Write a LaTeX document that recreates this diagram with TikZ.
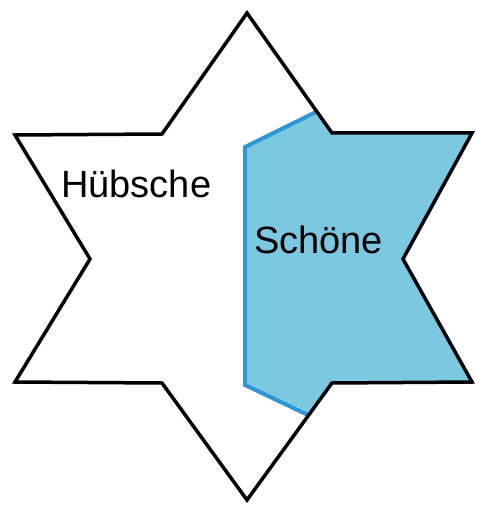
\documentclass[tikz,border=0pt]{standalone}
\usepackage{fontspec}
\setmainfont{Liberation Sans}
\usepackage{xcolor}
\usepackage{tikz}
\usetikzlibrary{calc}
\definecolor{hellblau}{RGB}{124,200,224}
\definecolor{randblau}{RGB}{46,150,212}

\begin{document}
\begin{tikzpicture}[x=1pt, y=-1pt,
      stern/.style={draw=black, line width=3.5pt, line join=miter},
      flaeche/.style={fill=hellblau, draw=none},
      rand/.style={draw=randblau, line width=4pt, line join=miter},
      wort/.style={anchor=base west, inner sep=0pt,
                   font=\fontsize{38}{42}\selectfont}]
    \useasboundingbox (0,0) rectangle (476,505);
    % Ecken des Sterns
    \coordinate (O)  at (247,13);
    \coordinate (OR) at (332,133);
    \coordinate (R1) at (472,133);
    \coordinate (RI) at (403,259);
    \coordinate (R2) at (472,382);
    \coordinate (UR) at (332,383);
    \coordinate (U)  at (247,500);
    \coordinate (UL) at (162,383);
    \coordinate (L2) at (15,382);
    \coordinate (LI) at (90,259);
    \coordinate (L1) at (15,135);
    \coordinate (OL) at (162,134);
    % Grenze der blauen Flaeche
    \coordinate (B1) at (316,112);
    \coordinate (B2) at (245,147);
    \coordinate (B3) at (245,385);
    \coordinate (B4) at (308,415);
    \path[flaeche] (B1) -- (OR) -- (R1) -- (RI) -- (R2) -- (UR) -- (B4)
      -- (B3) -- (B2) -- cycle;
    \draw[rand] (B1) -- (B2) -- (B3) -- (B4);
    \draw[stern] (O) -- (OR) -- (R1) -- (RI) -- (R2) -- (UR) -- (U)
      -- (UL) -- (L2) -- (LI) -- (L1) -- (OL) -- cycle;
    \node[wort] (huebsche) at (61,197) {Hübsche};
    \node[wort] (schoene) at (254,253) {Schöne};
  \end{tikzpicture}
\end{document}
